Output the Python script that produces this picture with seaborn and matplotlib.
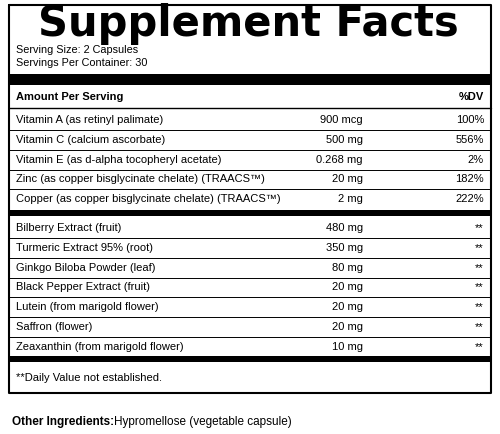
import matplotlib
matplotlib.use("Agg")
import matplotlib.pyplot as plt
import seaborn as sns

sns.set_theme(style="white")
plt.rcParams['font.family'] = ['Liberation Sans', 'DejaVu Sans']
plt.rcParams['text.color'] = 'black'

title = "Supplement Facts"
serving = ["Serving Size: 2 Capsules", "Servings Per Container: 30"]
group1 = ["Vitamin A (as retinyl palimate)", "Vitamin C (calcium ascorbate)",
          "Vitamin E (as d-alpha tocopheryl acetate)",
          "Zinc (as copper bisglycinate chelate) (TRAACS\u2122)",
          "Copper (as copper bisglycinate chelate) (TRAACS\u2122)"]
amt1 = ["900 mcg", "500 mg", "0.268 mg", "20 mg", "2 mg"]
dv1 = ["100%", "556%", "2%", "182%", "222%"]
group2 = ["Bilberry Extract (fruit)", "Turmeric Extract 95% (root)",
          "Ginkgo Biloba Powder (leaf)", "Black Pepper Extract (fruit)",
          "Lutein (from marigold flower)", "Saffron (flower)",
          "Zeaxanthin (from marigold flower)"]
amt2 = ["480 mg", "350 mg", "80 mg", "20 mg", "20 mg", "20 mg", "10 mg"]
dv2 = ["**"] * 7

fig = plt.figure(figsize=(5, 4.34), dpi=100)
ax = fig.add_axes([0, 0, 1, 1])
ax.set_xlim(0, 500); ax.set_ylim(434, 0); ax.axis("off")

L, R = 9, 491
ax.plot([L, R, R, L, L], [5, 5, 393, 393, 5], color="black", lw=1.5)
ax.text(248, 24, title, ha="center", va="center", fontsize=30, fontweight="bold",
        family="DejaVu Sans")
ax.text(16, 50, serving[0], va="center", fontsize=7.8)
ax.text(16, 63, serving[1], va="center", fontsize=7.8)
ax.fill_between([L, R], 74, 85, color="black", lw=0)
ax.text(16, 97, "Amount Per Serving", va="center", fontsize=8, fontweight="bold")
ax.text(484, 97, "%DV", va="center", ha="right", fontsize=8, fontweight="bold")
ax.plot([L, R], [108, 108], color="black", lw=1)

def rows(names, amts, dvs, y0):
    y = y0
    for i, (n, a, d) in enumerate(zip(names, amts, dvs)):
        ax.text(16, y, n, va="center", fontsize=8)
        ax.text(363, y, a, va="center", ha="right", fontsize=8)
        ax.text(484, y, d, va="center", ha="right", fontsize=8)
        if i < len(names) - 1:
            ax.plot([L, R], [y + 10, y + 10], color="black", lw=0.7)
        y += 19.8
    return y

rows(group1, amt1, dv1, 120)
ax.fill_between([L, R], 210, 216, color="black", lw=0)
rows(group2, amt2, dv2, 228)
ax.fill_between([L, R], 356, 362, color="black", lw=0)
ax.text(16, 378, "**Daily Value not established.", va="center", fontsize=8)
ax.text(12, 422, "Other Ingredients:", va="center", fontsize=8.5, fontweight="bold")
ax.text(114, 422, "Hypromellose (vegetable capsule)", va="center", fontsize=8.5)

fig.savefig("out.png", dpi=100, facecolor="white")
